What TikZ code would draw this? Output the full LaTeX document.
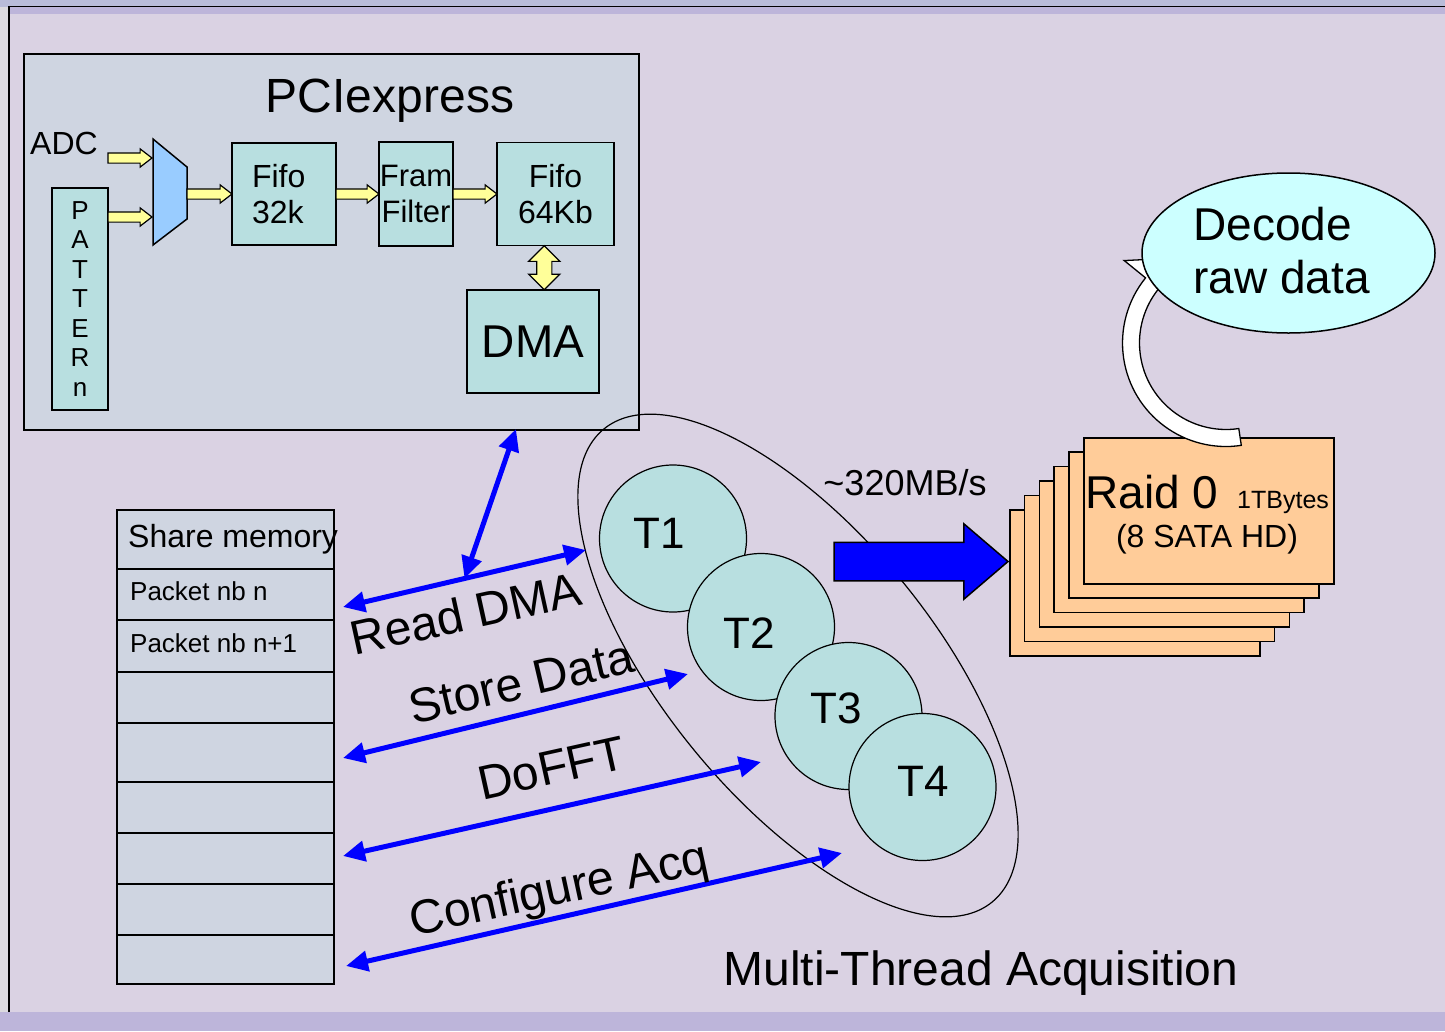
\documentclass[tikz,border=0pt]{standalone}
\usepackage{fontspec}
\setmainfont{Liberation Sans}
\usetikzlibrary{positioning,shapes.geometric,shapes.arrows,arrows.meta,calc}

\definecolor{slidebg}{HTML}{DAD2E3}
\definecolor{topband}{HTML}{B9BCD9}
\definecolor{lineband}{HTML}{BDB5DA}
\definecolor{leftband}{HTML}{DCDADF}
\definecolor{pcifill}{HTML}{CFD5E1}
\definecolor{unitfill}{HTML}{B8DFE0}
\definecolor{muxfill}{HTML}{99CCFF}
\definecolor{busyellow}{HTML}{FFFF99}
\definecolor{diskfill}{HTML}{FFCC99}
\definecolor{decodefill}{HTML}{CCFFFF}
\definecolor{cmdblue}{HTML}{0000FF}

\newcommand{\fsz}[2]{\fontsize{#1}{#2}\selectfont}

\begin{document}
\begin{tikzpicture}[x=1pt, y=-1pt]
\tikzset{unit/.style = {draw, fill=unitfill, line width=1.5pt, inner sep=0pt, outer sep=0pt, align=center, font=\fsz{32}{36}}}
\tikzset{lbl/.style = {inner sep=0pt}}
\tikzset{yarrow/.style = {single arrow, draw, fill=busyellow, line width=1.2pt, inner sep=4.5pt, single arrow head extend=4pt, single arrow tip angle=75, minimum height=44pt, anchor=tail, outer sep=0pt}}
\tikzset{ydarrow/.style = {double arrow, draw, fill=busyellow, line width=1.2pt, inner sep=7pt, double arrow head extend=8pt, minimum height=44pt, shape border rotate=90, outer sep=0pt}}
\tikzset{thread/.style = {circle, draw, fill=unitfill, line width=1.2pt, minimum size=147pt, inner sep=0pt}}
\tikzset{threadlbl/.style = {lbl, font=\fsz{44}{48}}}
\tikzset{disk/.style = {draw, fill=diskfill, line width=1.5pt, minimum width=250pt, minimum height=146pt, anchor=north west, inner sep=0pt}}
\tikzset{cmd/.style = {draw=cmdblue, line width=5pt, >={Triangle[length=22pt,width=20pt]}, <->}}
\tikzset{cmdlabel/.style = {lbl, anchor=base, font=\fsz{48}{50}}}
\useasboundingbox (0,0) rectangle (1445,1031);

% slide frame
\fill[slidebg] (0,0) rectangle (1445,1031);
\fill[leftband] (0,0) rectangle (9,1012);
\fill[topband] (0,0) rectangle (1445,6.5);
\fill[lineband] (9,7) rectangle (1445,14);
\fill[lineband] (0,1012) rectangle (1445,1031);
\draw[line width=1.6pt] (9,1012) -- (9,6.5) -- (1445,6.5);

% PCIexpress board
\node[draw, fill=pcifill, line width=1.5pt, minimum width=615pt, minimum height=376pt, anchor=north west, inner sep=0pt] (pci) at (23,53) {};
\node[lbl, anchor=base, font=\fsz{48}{50}] (pcititle) at (390,112) {PCIexpress};
\node[lbl, anchor=base west, font=\fsz{32}{34}] (adc) at (30,154) {ADC};
\node[unit, minimum width=56pt, minimum height=222pt, anchor=north west, font=\fsz{26}{29.5}] (pattern) at (52,188) {P\\A\\T\\T\\E\\R\\n};

\filldraw[fill=muxfill, line width=1.5pt] (153,139) -- (187,167) -- (187,219) -- (153,245) -- cycle;
\coordinate (mux out) at (187,194);

\node[unit, minimum width=104pt, minimum height=102pt, anchor=north west, text width=64pt, align=left] (fifoA) at (232,143) {Fifo\\32k};
\node[unit, minimum width=74pt, minimum height=104pt, right=43pt of fifoA, font=\fsz{31}{36}] (filter) {Fram\\Filter};
\node[unit, minimum width=117pt, minimum height=103pt, right=44pt of filter] (fifoB) {Fifo\\64Kb};
\node[unit, minimum width=132pt, minimum height=103pt, anchor=north west, font=\fsz{46}{50}] (dma) at (467,290) {DMA};

\node[yarrow] (adcbus) at (108,158) {};
\node[yarrow] (patbus) at (pattern.east |- 0,217) {};
\node[yarrow, minimum height=45pt] (muxbus) at (mux out) {};
\node[yarrow, minimum height=43pt] (fifobus) at (fifoA.east) {};
\node[yarrow] (filterbus) at (filter.east) {};
\node[ydarrow] (dmabus) at ($(fifoB.south)!.5!(dma.north)$) {};

% shared memory
\node[draw, fill=pcifill, line width=1.5pt, minimum width=217pt, minimum height=474pt, anchor=north west, inner sep=0pt] (mem) at (116,509) {};
\foreach \y in {569,620,672,723,782,833,884,935}
  \draw[line width=2pt] (mem.west |- 0,\y) -- (mem.east |- 0,\y);
\node[lbl, anchor=base west, font=\fsz{32}{34}] (memtitle) at (128,547) {Share memory};
\node[lbl, anchor=base west, font=\fsz{26}{28}] (pkt1) at (130,600) {Packet nb n};
\node[lbl, anchor=base west, font=\fsz{26}{28}] (pkt2) at (130,652) {Packet nb n+1};

% acquisition threads
\node[ellipse, draw, line width=1.2pt, minimum width=612pt, minimum height=268pt, rotate=-50.6, inner sep=0pt] (threads) at (798,665.5) {};
\node[thread] (t1) at (673,538.5) {};
\node[threadlbl] (t1lbl) at (659,533) {T1};
\node[thread] (t2) at (761,627) {};
\node[threadlbl] (t2lbl) at (749,633) {T2};
\node[thread] (t3) at (848.5,716) {};
\node[threadlbl] (t3lbl) at (836,708) {T3};
\node[thread] (t4) at (922.5,787) {};
\node[threadlbl] (t4lbl) at (923,781) {T4};
\node[lbl, anchor=base, font=\fsz{48}{50}] (mta) at (981,985) {Multi-Thread Acquisition};

\coordinate (rd mem) at (343,607);   \coordinate (rd thr) at (586,550);
\coordinate (st mem) at (343,758);   \coordinate (st thr) at (688,674);
\coordinate (fft mem) at (343,856);  \coordinate (fft thr) at (761,762);
\coordinate (cfg mem) at (346,966);  \coordinate (cfg thr) at (842,853);
\coordinate (dmaport) at (516,429);

\draw[cmd] (rd mem) -- (rd thr);
\draw[cmd] ($(rd mem)!.5!(rd thr)$) -- (dmaport);
\draw[cmd] (st mem) -- (st thr);
\draw[cmd] (fft mem) -- (fft thr);
\draw[cmd] (cfg mem) -- (cfg thr);

\node[cmdlabel, rotate=12.4] (rdlbl) at (469,630) {Read DMA};
\node[cmdlabel, rotate=13.2] (stlbl) at (525,698) {Store Data};
\node[cmdlabel, rotate=12.5] (fftlbl) at (555,784) {DoFFT};
\node[cmdlabel, rotate=12.2] (cfglbl) at (562,904) {Configure Acq};

% raid storage
\foreach \i in {5,...,0}
  \node[disk] (disk\i) at ({1083-14.8*\i},{437+14.4*\i}) {};
\node[lbl, anchor=base west, font=\fsz{46}{50}] (raid) at (1085,508) {Raid 0};
\node[lbl, anchor=base west, font=\fsz{25}{28}] (raidsize) at (1237,508) {1TBytes};
\node[lbl, anchor=base, font=\fsz{32}{34}] (raiddisks) at (1207,547) {(8 SATA HD)};

\node[single arrow, draw, fill=cmdblue, line width=1.5pt, minimum height=174pt, inner sep=18.5pt, single arrow head extend=18.5pt, single arrow tip angle=81, anchor=tail, outer sep=0pt] (rate) at (834,561.5) {};
\node[lbl, anchor=base, font=\fsz{36}{40}] (ratelbl) at (905,495) {\textasciitilde 320MB/s};

% decoding loop
\coordinate (turn) at (1226,343);
\filldraw[fill=white, line width=1.3pt]
  ($(turn)+(81.5:103.5)$) arc[start angle=81.5, end angle=219, radius=103.5]
  -- ($(turn)+(219:131)$) -- ($(turn)+(244:95)$) -- ($(turn)+(219:59)$) -- ($(turn)+(219:86.5)$)
  arc[start angle=219, end angle=81.5, radius=86.5] -- cycle;
\node[ellipse, draw, fill=decodefill, line width=1.5pt, minimum width=293pt, minimum height=160pt, inner sep=0pt] (decode) at (1288.5,253) {};
\node[lbl, align=left, font=\fsz{46}{53}] (decodelbl) at (1281.5,251) {Decode\\raw data};
\end{tikzpicture}
\end{document}
